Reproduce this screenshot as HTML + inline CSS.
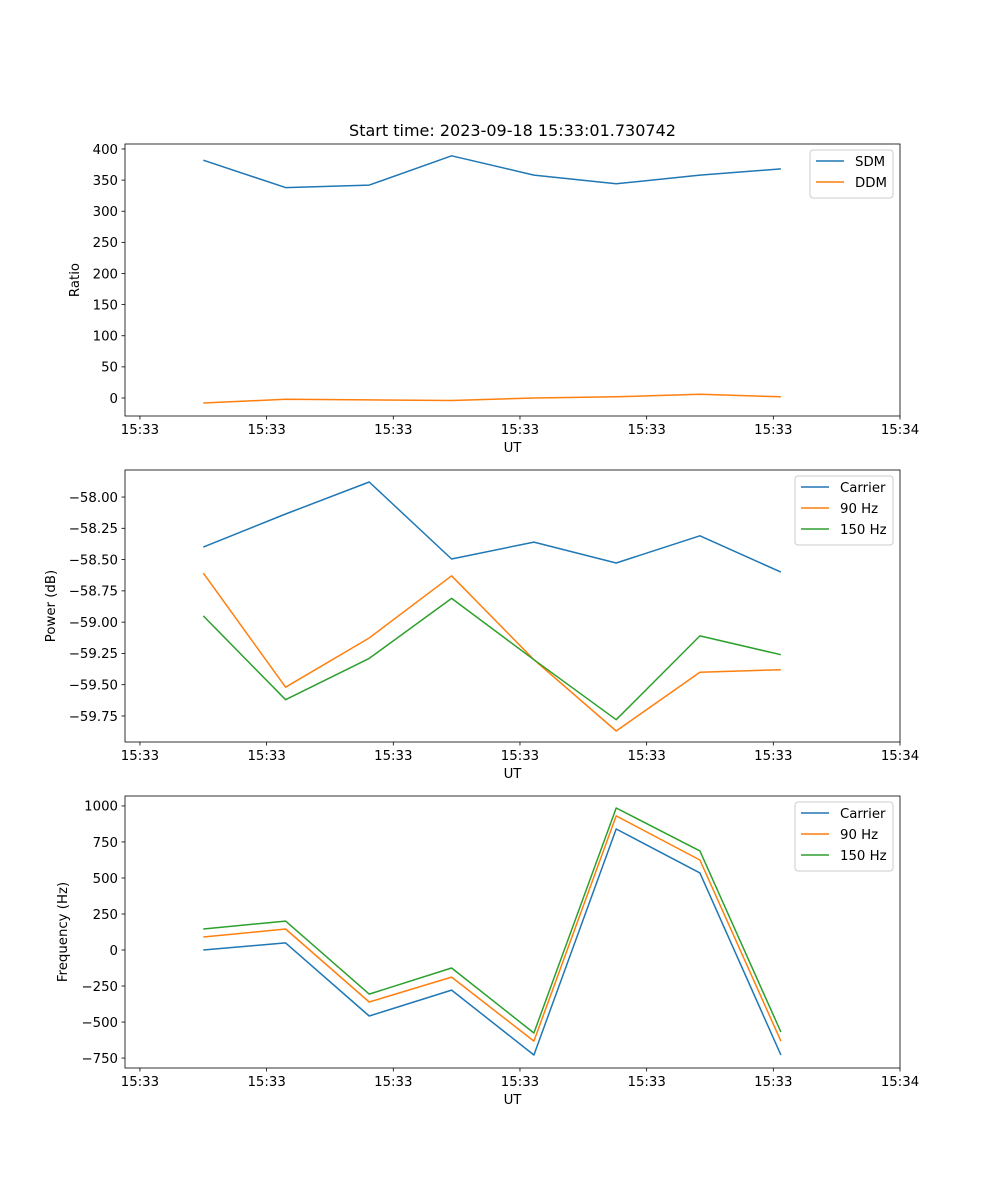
<!DOCTYPE html>
<html><head><meta charset="utf-8"><style>
body{margin:0;background:#fff}
svg{display:block;font-family:"DejaVu Sans","Liberation Sans",sans-serif}
</style></head><body>
<svg id="fig" width="1000" height="1200" viewBox="0 0 1000 1200">
<text x="512.5" y="136" text-anchor="middle" font-size="16">Start time: 2023-09-18 15:33:01.730742</text>
</svg>
<script>
const xSeconds=[5.0,11.5,18.1,24.6,31.1,37.6,44.2,50.6];
const xTickSeconds=[0,10,20,30,40,50,60];
const xTickLabels=["15:33","15:33","15:33","15:33","15:33","15:33","15:34"];
const sdm=[382,338,342,389,358,344,358,368];
const ddm=[-8,-2,-3,-4,0,2,6,2];
const ratioTicks=[0,50,100,150,200,250,300,350,400];
const pwrCarrier=[-58.40,-58.136,-57.88,-58.495,-58.36,-58.527,-58.31,-58.60];
const pwr90=[-58.608,-59.52,-59.127,-58.63,-59.30,-59.87,-59.40,-59.38];
const pwr150=[-58.95,-59.62,-59.29,-58.81,-59.30,-59.78,-59.11,-59.26];
const pwrTicks=[-59.75,-59.5,-59.25,-59.0,-58.75,-58.5,-58.25,-58.0];
const frqCarrier=[0,49,-458,-278,-729,840,535,-729];
const frq90=[90,146,-361,-188,-632,931,625,-632];
const frq150=[146,201,-306,-125,-576,986,688,-569];
const frqTicks=[-750,-500,-250,0,250,500,750,1000];

const NS="http://www.w3.org/2000/svg";
const svg=document.getElementById('fig');
const L=125,R=900,xMin=-1.18,xMax=60;
function xs(v){return L+(v-xMin)/(xMax-xMin)*(R-L);}
function mk(tag,attrs,parent){const e=document.createElementNS(NS,tag);for(const k in attrs)e.setAttribute(k,attrs[k]);(parent||svg).appendChild(e);return e;}
const C1="#1f77b4",C2="#ff7f0e",C3="#2ca02c";
function fmt(v,d){return (v<0?"\u2212":"")+Math.abs(v).toFixed(d);}

function panel(name,top,bot,yMin,yMax,ticks,dec,ylabel,ylabelX,series,legend){
  const g=mk('g',{});
  
  
  const ys=v=>bot-(v-yMin)/(yMax-yMin)*(bot-top);
  // x ticks
  xTickSeconds.forEach((t,i)=>{
    const x=xs(t);
    const tk=mk('line',{x1:x,x2:x,y1:bot,y2:bot+3.5,stroke:'#000','stroke-width':0.8},g);
    
    
    const tl=mk('text',{x:x,y:bot+18,'text-anchor':'middle','font-size':13.3},g);
    tl.textContent=xTickLabels[i];
    
    
  });
  const xl=mk('text',{x:(L+R)/2,y:bot+36,'text-anchor':'middle','font-size':13.3},g);
  xl.textContent='UT';
  
  
  ticks.forEach(t=>{
    const y=ys(t);
    const tk=mk('line',{x1:L-3.5,x2:L,y1:y,y2:y,stroke:'#000','stroke-width':0.8},g);
    
    
    const tl=mk('text',{x:L-7,y:y+4.8,'text-anchor':'end','font-size':13.3},g);
    tl.textContent=fmt(t,dec);
    
    
  });
  const yl=mk('text',{x:ylabelX,y:(top+bot)/2,'text-anchor':'middle','font-size':13.3,transform:`rotate(-90 ${ylabelX} ${(top+bot)/2})`},g);
  yl.textContent=ylabel;
  
  
  series.forEach(s=>{
    const pts=s.vals.map((v,i)=>xs(xSeconds[i]).toFixed(1)+','+ys(v).toFixed(1)).join(' ');
    const p=mk('polyline',{points:pts,fill:'none',stroke:s.color,'stroke-width':1.5,'stroke-linejoin':'round'},g);
    
    
  });
  const fr=mk('rect',{x:L,y:top,width:R-L,height:bot-top,fill:'none',stroke:'#000','stroke-width':0.8},g);
  
  
  // legend
  const lg=mk('g',{},g);
  
  
  mk('rect',{x:legend.x,y:top+6,width:legend.w,height:series.length*21+6,rx:3,fill:'#fff',stroke:'#ccc','stroke-width':1},lg);
  series.forEach((s,i)=>{
    const y=top+17+i*21;
    const e=mk('g',{},lg);
    
    
    mk('line',{x1:legend.x+6,x2:legend.x+34,y1:y,y2:y,stroke:s.color,'stroke-width':1.5},e);
    const t=mk('text',{x:legend.x+45,y:y+5,'font-size':13.3},e);
    t.textContent=s.label;
  });
}
panel('ratio-panel',144,416,-28.9,408,ratioTicks,0,'Ratio',79,
  [{id:'sdm',label:'SDM',vals:sdm,color:C1},{id:'ddm',label:'DDM',vals:ddm,color:C2}],{x:810,w:83});
panel('power-panel',470,742,-59.958,-57.784,pwrTicks,2,'Power (dB)',55,
  [{id:'power-carrier',label:'Carrier',vals:pwrCarrier,color:C1},{id:'power-90hz',label:'90 Hz',vals:pwr90,color:C2},{id:'power-150hz',label:'150 Hz',vals:pwr150,color:C3}],{x:795,w:98});
panel('frequency-panel',796,1068,-819,1069,frqTicks,0,'Frequency (Hz)',67,
  [{id:'freq-carrier',label:'Carrier',vals:frqCarrier,color:C1},{id:'freq-90hz',label:'90 Hz',vals:frq90,color:C2},{id:'freq-150hz',label:'150 Hz',vals:frq150,color:C3}],{x:795,w:98});
</script>
</body></html>
